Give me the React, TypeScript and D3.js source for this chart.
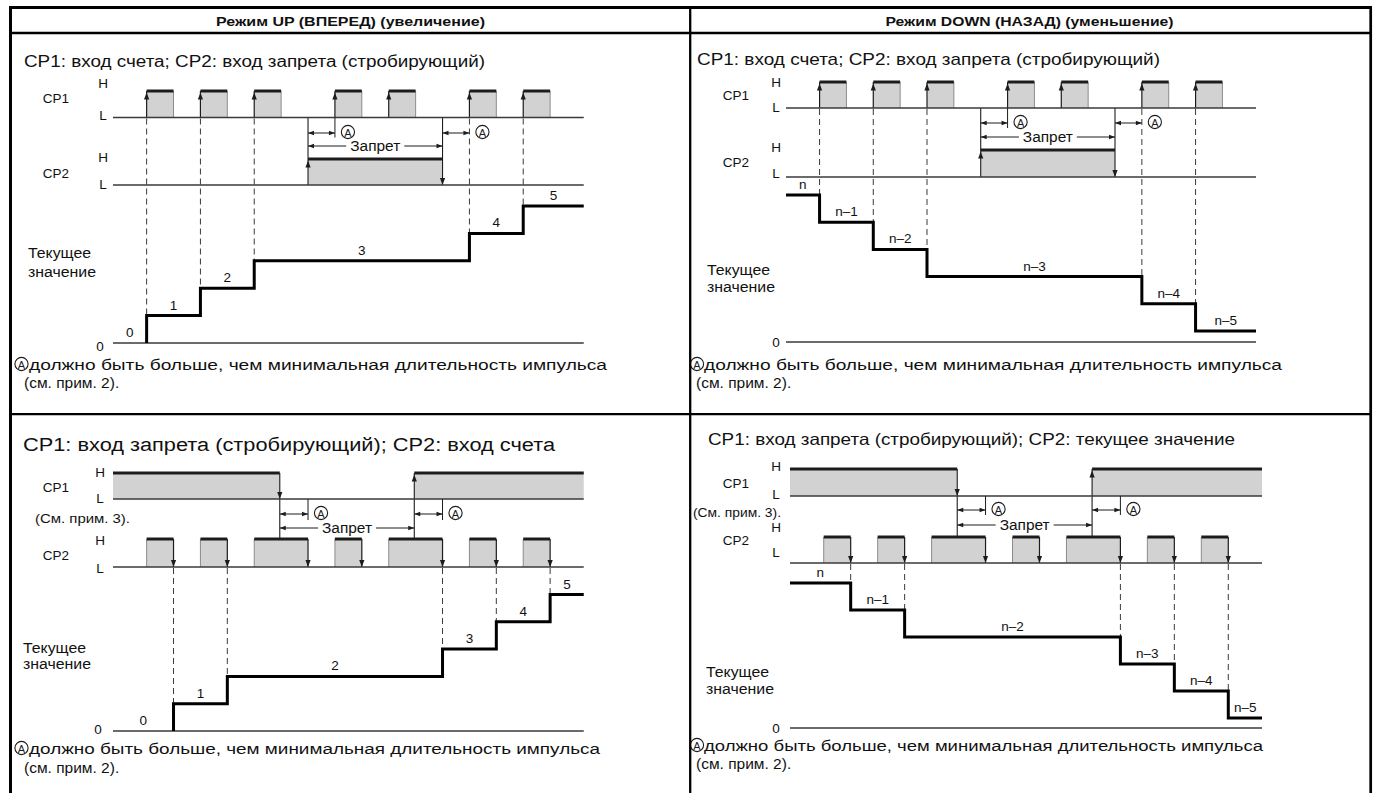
import React from "react";
import * as d3 from "d3";

const FONT = "'Liberation Sans', Arial, Helvetica, sans-serif";

// ---------- texts ----------
const headerTitles = ["Режим UP (ВПЕРЕД) (увеличение)", "Режим DOWN (НАЗАД) (уменьшение)"];
const panelSubtitles = [
  "CP1: вход счета; CP2: вход запрета (стробирующий)",
  "CP1: вход счета; CP2: вход запрета (стробирующий)",
  "CP1: вход запрета (стробирующий); CP2: вход счета",
  "CP1: вход запрета (стробирующий); CP2: текущее значение",
];
const signalNames = ["CP1", "CP2"];
const levelNames = ["H", "L"];
const counterTitle = ["Текущее", "значение"];
const inhibitText = "Запрет";
const markA = "A";
const noteText = "должно быть больше, чем минимальная длительность импульса";
const noteRef = "(см. прим. 2).";
const cp1Note = "(См. прим. 3).";
const axisZero = "0";

// ---------- timing data (1 unit = one count pulse width) ----------
const timeSpan = [0, 17.5];
const countPulsesRow1 = [[1.25, 2.25], [3.25, 4.25], [5.25, 6.25], [8.25, 9.25], [10.25, 11.25], [13.25, 14.25], [15.25, 16.25]];
const inhibitRow1 = [7.25, 12.25]; // CP2 high
const countPulsesRow2 = [[1.25, 2.25], [3.25, 4.25], [5.25, 7.25], [8.25, 9.25], [10.25, 12.25], [13.25, 14.25], [15.25, 16.25]];
const inhibitRow2 = [6.2, 11.2]; // CP1 low
const countTimesRow1 = [1.25, 3.25, 5.25, 13.25, 15.25];
const countTimesRow2 = [2.25, 4.25, 12.25, 14.25, 16.25];
const aSpansRow1 = [[7.25, 8.25], [12.25, 13.25]];
const aSpansRow2 = [[6.2, 7.25], [11.2, 12.25]];
const counterLevels = [0, 1, 2, 3, 4, 5];
const upLabels = ["0", "1", "2", "3", "4", "5"];
const downLabels = ["n", "n–1", "n–2", "n–3", "n–4", "n–5"];

// ---------- layout ----------
const layouts = [
  {
    key: "tl", row: 1, mode: "up", sub: 0, xr: [113, 583.75],
    cp1: { L: 117.5, H: 91 }, cp2: { L: 185, H: 159 }, lv: [343, 206], axisY: 343,
    hlX: 103, nameX: 56, lbl1: [83.5, 98, 115.5], lbl2: [157, 173, 184],
    cnt: { x: 28, y1: 252.5, y2: 272 }, aY: 133, zY: 146, tick: 20, zero: { x: 100, y: 346 },
    subPos: { x: 24, y: 61.5, w: 461, fs: 16 },
    note: { cx: 21.5, y: 364, tx: 29, w: 578, rx: 24, ry: 382 },
  },
  {
    key: "tr", row: 1, mode: "down", sub: 1, xr: [786, 1256],
    cp1: { L: 108, H: 82 }, cp2: { L: 177, H: 150 }, lv: [195, 331], axisY: 342,
    hlX: 776, nameX: 736, lbl1: [82.5, 95, 107], lbl2: [147.5, 162, 173.5],
    cnt: { x: 707, y1: 270, y2: 287 }, aY: 123, zY: 137, tick: 20, zero: { x: 776, y: 342 },
    subPos: { x: 697, y: 58.5, w: 463, fs: 16.2 },
    note: { cx: 697, y: 364, tx: 704, w: 578, rx: 696, ry: 382 },
  },
  {
    key: "bl", row: 2, mode: "up", sub: 2, xr: [113, 583.75],
    cp1: { L: 499, H: 473 }, cp2: { L: 567, H: 539 }, lv: [731, 594.5], axisY: 731,
    hlX: 100, nameX: 56, lbl1: [472, 487, 498], lbl2: [540, 555.5, 568],
    cpNote: { x: 35, y: 518, w: 95 },
    cnt: { x: 23, y1: 648, y2: 664 }, aY: 514, zY: 528, tick: 21, zero: { x: 98, y: 729 },
    subPos: { x: 23, y: 445, w: 532, fs: 18 },
    note: { cx: 21.5, y: 748, tx: 29, w: 571, rx: 24, ry: 767 },
  },
  {
    key: "br", row: 2, mode: "down", sub: 3, xr: [790, 1262],
    cp1: { L: 496, H: 469 }, cp2: { L: 563, H: 537 }, lv: [583, 718], axisY: 728,
    hlX: 776, nameX: 736, lbl1: [466.5, 483, 494], lbl2: [527.5, 540, 552.5],
    cpNote: { x: 693, y: 512, w: 88 },
    cnt: { x: 706, y1: 672, y2: 689 }, aY: 510, zY: 525, tick: 19, zero: { x: 776, y: 728 },
    subPos: { x: 708, y: 439, w: 527, fs: 16.5 },
    note: { cx: 697, y: 745, tx: 704, w: 559, rx: 696, ry: 763 },
  },
];

const FILL = "#d2d2d2";
const GRAY = "#8c8c8c";
const INK = "#1c1c1c";
const LINE = "#3a3a3a";
const LABEL_SIZE = 13.5;

function tri(x: number, y: number, dir: string, len = 7, half = 2.6) {
  switch (dir) {
    case "u": return `M${x},${y}L${x - half},${y + len}L${x + half},${y + len}Z`;
    case "d": return `M${x},${y}L${x - half},${y - len}L${x + half},${y - len}Z`;
    case "l": return `M${x},${y}L${x + len},${y - half}L${x + len},${y + half}Z`;
    default: return `M${x},${y}L${x - len},${y - half}L${x - len},${y + half}Z`;
  }
}

const Txt = ({ x, y, children, size = LABEL_SIZE, anchor = "start", w, weight }: any) => (
  <text x={x} y={y} fontSize={size} textAnchor={anchor} dominantBaseline="central" fill="#111"
    textLength={w} lengthAdjust={w ? "spacingAndGlyphs" : undefined} fontWeight={weight}>{children}</text>
);

const CircA = ({ cx, cy }: any) => (
  <g>
    <circle cx={cx} cy={cy} r={6.6} fill="none" stroke={INK} strokeWidth={1.1} />
    <text x={cx} y={cy + 0.6} fontSize={11} textAnchor="middle" dominantBaseline="central" fill={INK}>{markA}</text>
  </g>
);

function Panel({ L }: any) {
  const x = d3.scaleLinear().domain(timeSpan).range(L.xr);
  const yv = d3.scaleLinear().domain([0, 5]).range(L.lv);
  const row1 = L.row === 1;
  const up = L.mode === "up";
  const countTimes = row1 ? countTimesRow1 : countTimesRow2;
  const aSpans = row1 ? aSpansRow1 : aSpansRow2;
  const inh = row1 ? inhibitRow1 : inhibitRow2;
  const labels = up ? upLabels : downLabels;
  const els: any[] = [];
  const tEnd = timeSpan[1];

  // ---- signals ----
  if (row1) {
    countPulsesRow1.forEach(([s, e], i) => {
      els.push(<rect key={`p1f${i}`} x={x(s)} y={L.cp1.H} width={x(e) - x(s)} height={L.cp1.L - L.cp1.H} fill={FILL} />);
      els.push(<line key={`p1r${i}`} x1={x(e)} x2={x(e)} y1={L.cp1.H} y2={L.cp1.L} stroke={GRAY} strokeWidth={1} />);
      els.push(<line key={`p1l${i}`} x1={x(s)} x2={x(s)} y1={L.cp1.H} y2={L.cp1.L} stroke={INK} strokeWidth={1.2} />);
      els.push(<line key={`p1t${i}`} x1={x(s)} x2={x(e)} y1={L.cp1.H} y2={L.cp1.H} stroke={INK} strokeWidth={3} />);
      els.push(<path key={`p1a${i}`} d={tri(x(s), L.cp1.H + 1.5, "u")} fill={INK} />);
    });
    const [s, e] = inh;
    els.push(<rect key="ihf" x={x(s)} y={L.cp2.H} width={x(e) - x(s)} height={L.cp2.L - L.cp2.H} fill={FILL} />);
    els.push(<line key="iht" x1={x(s)} x2={x(e)} y1={L.cp2.H} y2={L.cp2.H} stroke={INK} strokeWidth={3} />);
    els.push(<line key="ihl" x1={x(s)} x2={x(s)} y1={L.cp1.L} y2={L.cp2.L} stroke={INK} strokeWidth={1.1} />);
    els.push(<path key="ihla" d={tri(x(s), L.cp2.H + 1.5, "u")} fill={INK} />);
    els.push(<line key="ihr" x1={x(e)} x2={x(e)} y1={L.cp1.L} y2={L.cp2.L} stroke={INK} strokeWidth={1.1} />);
    els.push(<path key="ihra" d={tri(x(e), L.cp2.L, "d")} fill={INK} />);
  } else {
    const blocks = [[timeSpan[0], inh[0]], [inh[1], tEnd]];
    blocks.forEach(([s, e], i) => {
      els.push(<rect key={`b1f${i}`} x={x(s)} y={L.cp1.H} width={x(e) - x(s)} height={L.cp1.L - L.cp1.H} fill={FILL} />);
      els.push(<line key={`b1t${i}`} x1={x(s)} x2={x(e)} y1={L.cp1.H} y2={L.cp1.H} stroke={INK} strokeWidth={3} />);
    });
    els.push(<line key="fall" x1={x(inh[0])} x2={x(inh[0])} y1={L.cp1.H} y2={L.cp2.H} stroke={INK} strokeWidth={1.1} />);
    els.push(<path key="falla" d={tri(x(inh[0]), L.cp1.L, "d")} fill={INK} />);
    els.push(<line key="rise" x1={x(inh[1])} x2={x(inh[1])} y1={L.cp1.H} y2={L.cp2.H} stroke={INK} strokeWidth={1.1} />);
    els.push(<path key="risea" d={tri(x(inh[1]), L.cp1.H + 1.5, "u")} fill={INK} />);
    countPulsesRow2.forEach(([s, e], i) => {
      els.push(<rect key={`p2f${i}`} x={x(s)} y={L.cp2.H} width={x(e) - x(s)} height={L.cp2.L - L.cp2.H} fill={FILL} />);
      els.push(<line key={`p2l${i}`} x1={x(s)} x2={x(s)} y1={L.cp2.H} y2={L.cp2.L} stroke={GRAY} strokeWidth={1} />);
      els.push(<line key={`p2r${i}`} x1={x(e)} x2={x(e)} y1={L.cp2.H} y2={L.cp2.L} stroke={INK} strokeWidth={1.2} />);
      els.push(<line key={`p2t${i}`} x1={x(s)} x2={x(e)} y1={L.cp2.H} y2={L.cp2.H} stroke={INK} strokeWidth={3} />);
      els.push(<path key={`p2a${i}`} d={tri(x(e), L.cp2.L, "d")} fill={INK} />);
    });
  }
  // baselines
  els.push(<line key="b1" x1={L.xr[0]} x2={L.xr[1]} y1={L.cp1.L} y2={L.cp1.L} stroke={LINE} strokeWidth={1.5} />);
  els.push(<line key="b2" x1={L.xr[0]} x2={L.xr[1]} y1={L.cp2.L} y2={L.cp2.L} stroke={LINE} strokeWidth={1.5} />);

  // dashed count lines
  const dashTop = row1 ? L.cp1.L + 1 : L.cp2.L + 1;
  countTimes.forEach((t, i) => {
    const yTop = up ? yv(i + 1) : yv(i);
    els.push(<line key={`d${i}`} x1={x(t)} x2={x(t)} y1={dashTop} y2={yTop} stroke={LINE} strokeWidth={1} strokeDasharray="6,4" />);
  });

  // A spans
  aSpans.forEach(([a0, a1], i) => {
    const counted = countTimes.includes(a1) && row1;
    if (!counted) {
      els.push(<line key={`tk${i}`} x1={x(a1)} x2={x(a1)} y1={L.cp1.L} y2={L.cp1.L + L.tick} stroke={INK} strokeWidth={1} />);
    }
    els.push(<line key={`al${i}`} x1={x(a0)} x2={x(a1)} y1={L.aY} y2={L.aY} stroke={INK} strokeWidth={1} />);
    els.push(<path key={`aal${i}`} d={tri(x(a0), L.aY, "l", 6, 2.2)} fill={INK} />);
    els.push(<path key={`aar${i}`} d={tri(x(a1), L.aY, "r", 6, 2.2)} fill={INK} />);
    els.push(<CircA key={`ac${i}`} cx={x(a1) + 13} cy={L.aY - 1} />);
  });

  // inhibit arrow
  {
    const z0 = x(inh[0]), z1 = x(inh[1]);
    const mid = (z0 + z1) / 2;
    const tw = 50;
    els.push(<line key="zl" x1={z0} x2={mid - tw / 2 - 4} y1={L.zY} y2={L.zY} stroke={INK} strokeWidth={1} />);
    els.push(<line key="zr" x1={mid + tw / 2 + 4} x2={z1} y1={L.zY} y2={L.zY} stroke={INK} strokeWidth={1} />);
    els.push(<path key="zal" d={tri(z0, L.zY, "l", 6, 2.2)} fill={INK} />);
    els.push(<path key="zar" d={tri(z1, L.zY, "r", 6, 2.2)} fill={INK} />);
    els.push(<Txt key="zt" x={mid} y={L.zY} anchor="middle" size={14} w={tw}>{inhibitText}</Txt>);
  }

  // counter
  els.push(<line key="ax" x1={L.xr[0]} x2={L.xr[1]} y1={L.axisY} y2={L.axisY} stroke={LINE} strokeWidth={1.5} />);
  els.push(<Txt key="zero" x={L.zero.x} y={L.zero.y} anchor="middle">{axisZero}</Txt>);
  const pts: [number, number][] = up
    ? [[countTimes[0], 0], ...countTimes.map((t, i) => [t, i + 1] as [number, number]), [tEnd, 5]]
    : [[timeSpan[0], 0], ...countTimes.map((t, i) => [t, i + 1] as [number, number]), [tEnd, 5]];
  const stepLine = d3.line<[number, number]>().x(d => x(d[0])).y(d => yv(d[1])).curve(d3.curveStepAfter);
  els.push(<path key="step" d={stepLine(pts) || ""} fill="none" stroke="#000" strokeWidth={3} strokeLinejoin="miter" />);
  counterLevels.forEach((v, i) => {
    const s = i === 0 ? timeSpan[0] : countTimes[i - 1];
    const e = i === 5 ? tEnd : countTimes[i];
    els.push(<Txt key={`sl${i}`} x={(x(s) + x(e)) / 2} y={yv(v) - 10.5} anchor="middle">{labels[i]}</Txt>);
  });

  // labels
  els.push(<Txt key="h1" x={L.hlX} y={L.lbl1[0]} anchor="middle">{levelNames[0]}</Txt>);
  els.push(<Txt key="n1" x={L.nameX} y={L.lbl1[1]} anchor="middle">{signalNames[0]}</Txt>);
  els.push(<Txt key="l1" x={L.hlX} y={L.lbl1[2]} anchor="middle">{levelNames[1]}</Txt>);
  els.push(<Txt key="h2" x={L.hlX} y={L.lbl2[0]} anchor="middle">{levelNames[0]}</Txt>);
  els.push(<Txt key="n2" x={L.nameX} y={L.lbl2[1]} anchor="middle">{signalNames[1]}</Txt>);
  els.push(<Txt key="l2" x={L.hlX} y={L.lbl2[2]} anchor="middle">{levelNames[1]}</Txt>);
  if (L.cpNote) els.push(<Txt key="cpn" x={L.cpNote.x} y={L.cpNote.y} w={L.cpNote.w}>{cp1Note}</Txt>);
  els.push(<Txt key="c1" x={L.cnt.x} y={L.cnt.y1} size={14} w={63}>{counterTitle[0]}</Txt>);
  els.push(<Txt key="c2" x={L.cnt.x} y={L.cnt.y2} size={14} w={68}>{counterTitle[1]}</Txt>);

  // subtitle & note
  els.push(<Txt key="sub" x={L.subPos.x} y={L.subPos.y} size={L.subPos.fs} w={L.subPos.w}>{panelSubtitles[L.sub]}</Txt>);
  els.push(<CircA key="nA" cx={L.note.cx} cy={L.note.y} />);
  els.push(<Txt key="nt" x={L.note.tx} y={L.note.y} size={15.5} w={L.note.w}>{noteText}</Txt>);
  els.push(<Txt key="nr" x={L.note.rx} y={L.note.ry} size={15.5}>{noteRef}</Txt>);

  return <g>{els}</g>;
}

export default function App() {
  return (
    <svg width={1376} height={793} style={{ position: "fixed", left: 0, top: 0, background: "#fff" }} fontFamily={FONT}>
      <rect width={1376} height={793} fill="#fff" />
      {layouts.map(L => <Panel key={L.key} L={L} />)}
      {/* table grid */}
      <g stroke="#000">
        <line x1={9} x2={1372} y1={7.5} y2={7.5} strokeWidth={3} />
        <line x1={10.5} x2={10.5} y1={6} y2={793} strokeWidth={3} />
        <line x1={1370.7} x2={1370.7} y1={6} y2={793} strokeWidth={2.7} />
        <line x1={690.2} x2={690.2} y1={6} y2={793} strokeWidth={2.3} />
        <line x1={9} x2={1372} y1={33} y2={33} strokeWidth={2.5} />
        <line x1={9} x2={1372} y1={414.2} y2={414.2} strokeWidth={2.2} />
      </g>
      <Txt x={350.5} y={21.5} anchor="middle" size={13} weight="bold" w={269}>{headerTitles[0]}</Txt>
      <Txt x={1029.5} y={21.5} anchor="middle" size={13} weight="bold" w={288}>{headerTitles[1]}</Txt>
    </svg>
  );
}
